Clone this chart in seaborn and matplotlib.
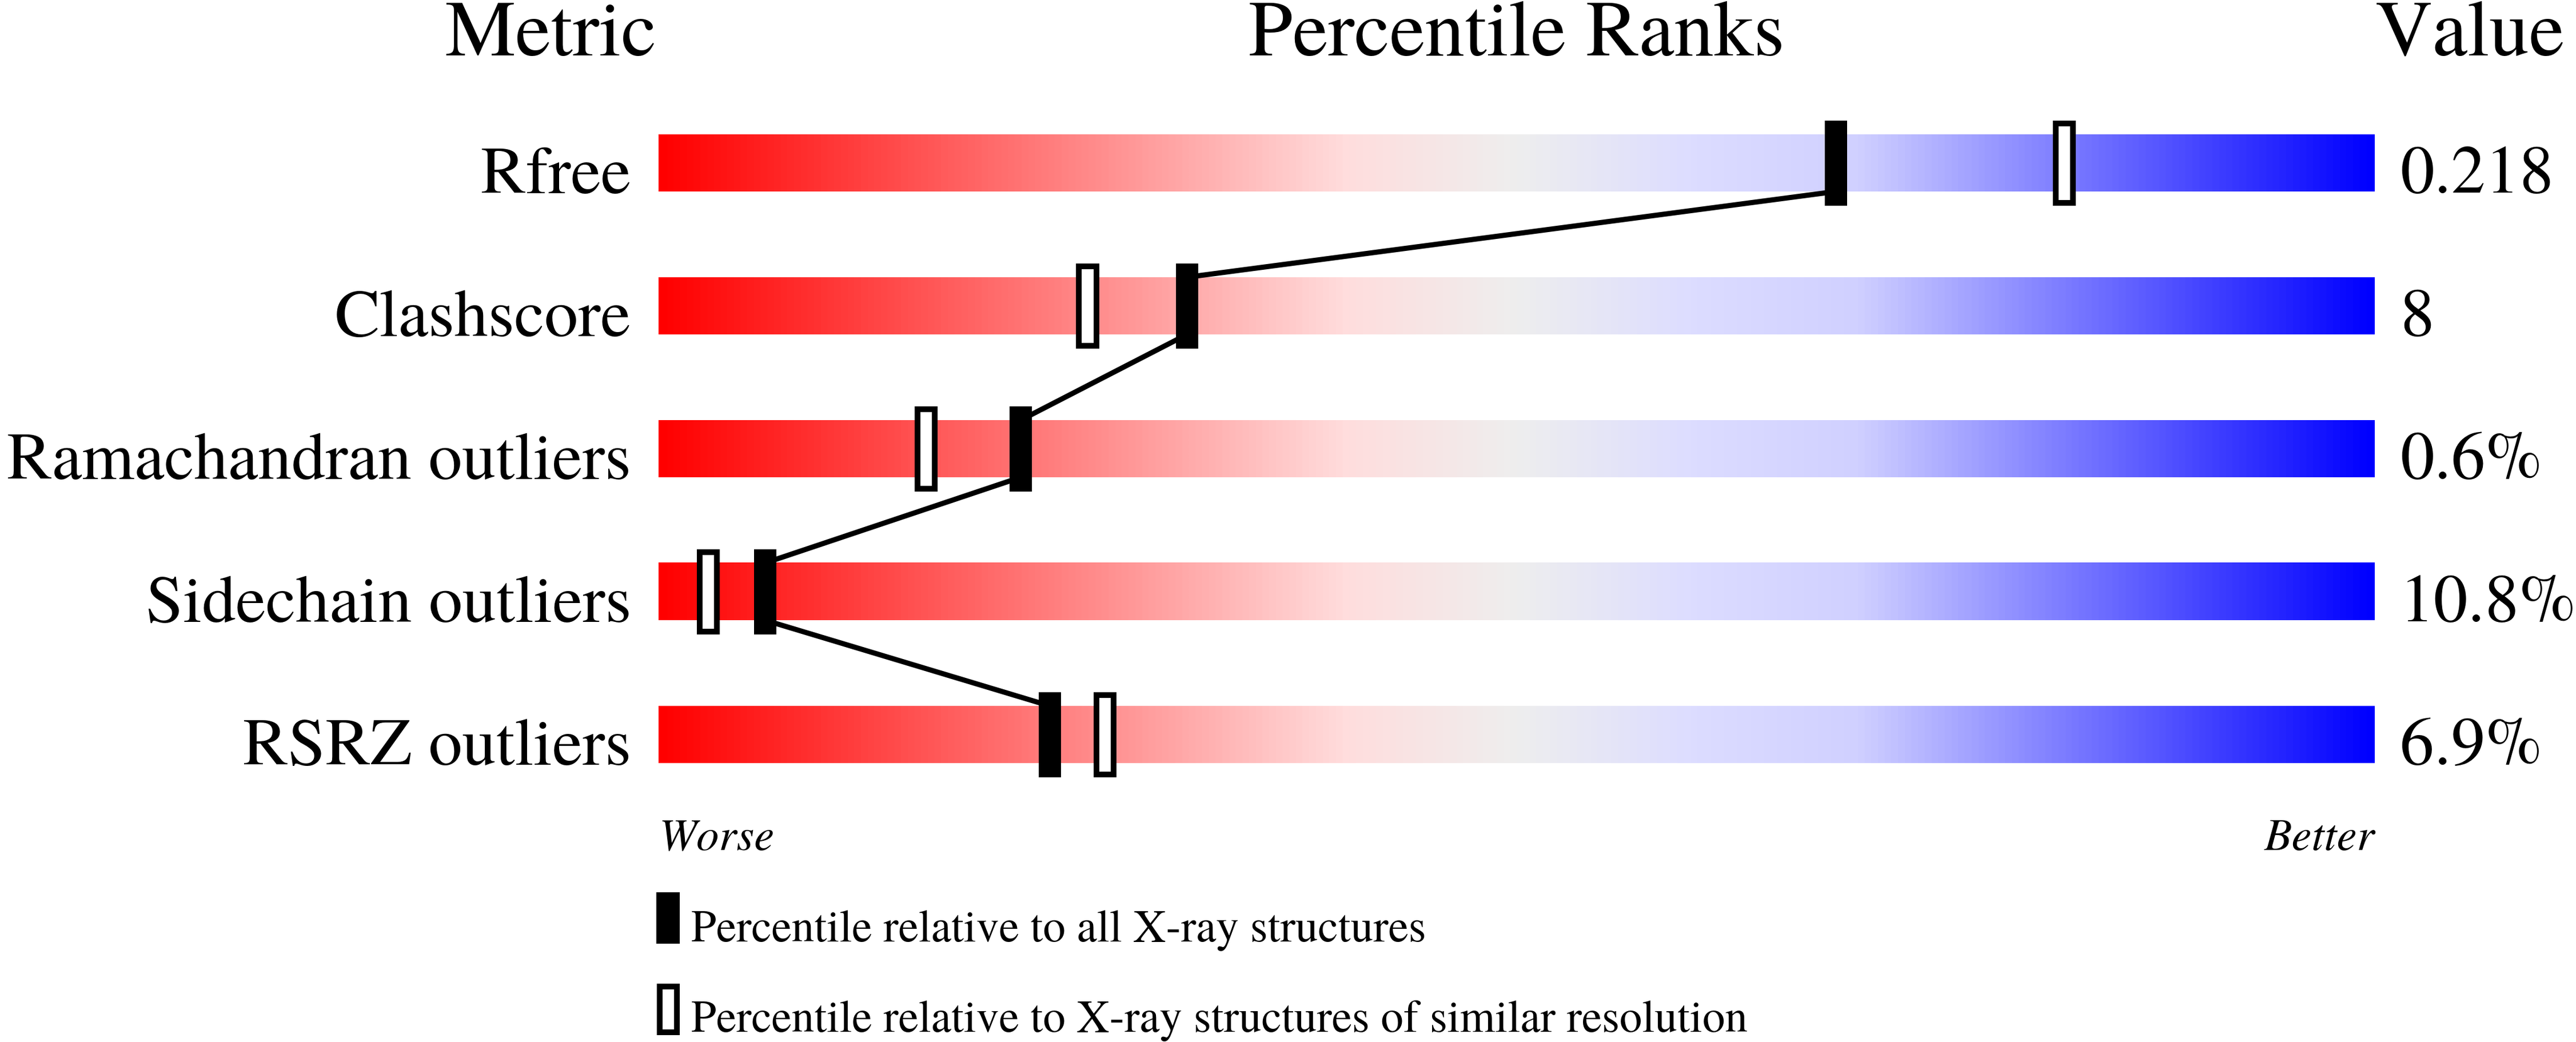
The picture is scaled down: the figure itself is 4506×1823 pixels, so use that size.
import numpy as np
import pandas as pd
import matplotlib.pyplot as plt
from matplotlib import font_manager
from matplotlib.colors import LinearSegmentedColormap
import seaborn as sns

metrics = ['Rfree', 'Clashscore', 'Ramachandran outliers', 'Sidechain outliers', 'RSRZ outliers']
values = ['0.218', '8', '0.6%', '10.8%', '6.9%']
# percentile vs all X-ray structures (filled) and vs similar resolution (hollow)
pct_all = [68.6, 30.8, 21.1, 6.2, 22.8]
pct_similar = [81.9, 25.0, 15.6, 2.9, 26.0]
legend_labels = ['Percentile relative to all X-ray structures',
                 'Percentile relative to X-ray structures of similar resolution']

sns.set_style('white')
plt.rcParams['text.color'] = 'black'


# pick a Times-like font file straight from the font list
def pick(style):
    for fam in ['TeX Gyre Termes', 'Liberation Serif', 'FreeSerif', 'Noto Serif']:
        for f in font_manager.fontManager.ttflist:
            if f.name == fam and f.style == style and f.weight in (400, 'normal', 'regular'):
                return f.fname
    return font_manager.findfont('serif')


serif_path = pick('normal')
italic_path = pick('italic')


def fp(size, italic=False):
    return font_manager.FontProperties(fname=italic_path if italic else serif_path, size=size)


fig = plt.figure(figsize=(45.06, 18.24), dpi=100)
ax = fig.add_axes([0, 0, 1, 1])

# red -> pink -> grey -> lavender -> blue
cmap = LinearSegmentedColormap.from_list('pr', [
    (0.0, '#ff0000'), (0.4, '#ffdddd'), (0.5, '#eeeeee'),
    (0.6, '#ddddff'), (0.7, '#d0d0ff'), (1.0, '#0000ff')])
grad = np.linspace(0, 1, 512).reshape(1, -1)

bar_h = 0.4
rows = np.arange(len(metrics))
for i in rows:
    ax.imshow(grad, cmap=cmap, aspect='auto', interpolation='bilinear',
              extent=(0, 100, i + bar_h / 2, i - bar_h / 2), zorder=1)

# connecting line: bottom of one bar to the top of the next
line_df = pd.DataFrame({
    'x': np.repeat(pct_all, 2),
    'y': np.ravel([[i - bar_h / 2, i + bar_h / 2] for i in rows]),
})
sns.lineplot(data=line_df, x='x', y='y', sort=False, estimator=None,
             color='black', linewidth=6.5, ax=ax, zorder=2)

# markers
ax.bar(pct_all, 0.596, width=1.3, bottom=rows - 0.298, color='black',
       linewidth=0, zorder=3)
ax.bar(pct_similar, 0.556, width=1.0, bottom=rows - 0.278, facecolor='white',
       edgecolor='black', linewidth=7.2, zorder=3)

# headers
ax.text(-0.1, -0.756, 'Metric', ha='right', va='baseline', fontproperties=fp(100))
ax.text(50, -0.756, 'Percentile Ranks', ha='center', va='baseline', fontproperties=fp(100))
ax.text(100.03, -0.756, 'Value', ha='left', va='baseline', fontproperties=fp(100))

for i, (m, v) in enumerate(zip(metrics, values)):
    ax.text(-1.6, i + 0.208, m, ha='right', va='baseline', fontproperties=fp(85))
    ax.text(101.47, i + 0.204, v, ha='left', va='baseline', fontproperties=fp(86))

ax.text(0, 4.804, 'Worse', ha='left', va='baseline', fontproperties=fp(57, True))
ax.text(100, 4.804, 'Better', ha='right', va='baseline', fontproperties=fp(57, True))

# legend
ax.bar([0.55], [0.36], width=1.37, bottom=[5.284 - 0.18], color='black',
       linewidth=0)
ax.bar([0.55], [0.32], width=1.0, bottom=[5.924 - 0.16], facecolor='white',
       edgecolor='black', linewidth=7.2)
ax.text(1.9, 5.444, legend_labels[0], ha='left', va='baseline', fontproperties=fp(57))
ax.text(1.9, 6.076, legend_labels[1], ha='left', va='baseline', fontproperties=fp(57))

ax.set_xlim(-1152 / 30.02, 100 + 352 / 30.02)
ax.set_ylim((1824 - 286) / 250, -286 / 250)
ax.axis('off')

fig.savefig('out.png', dpi=100, facecolor='white')
